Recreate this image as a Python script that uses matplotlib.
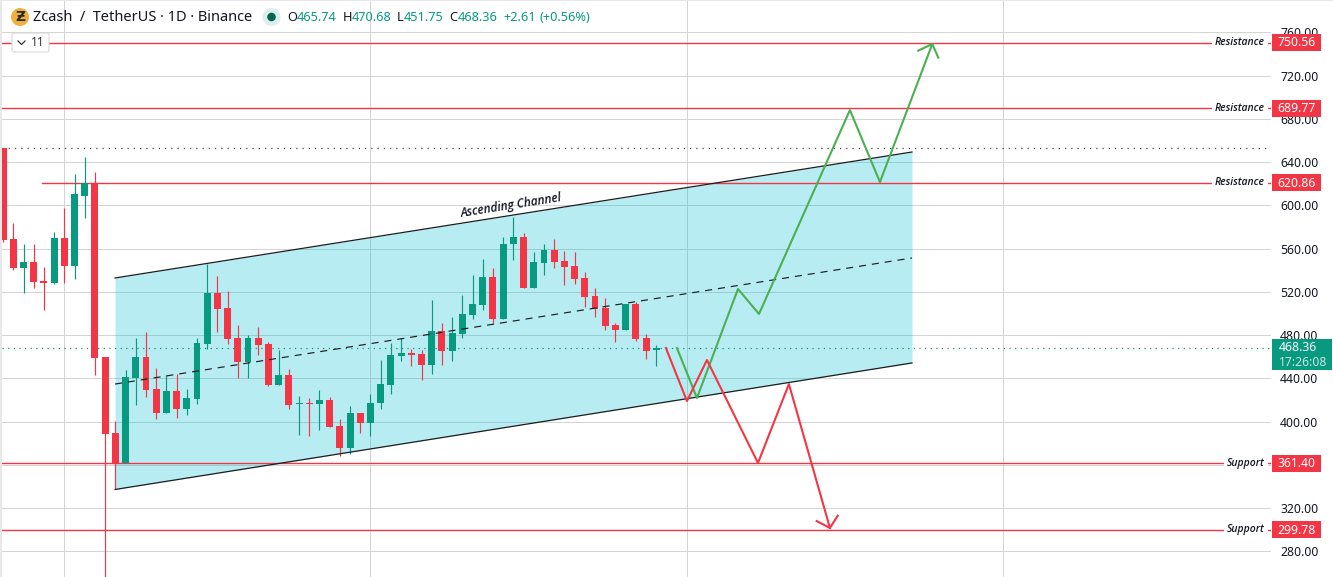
import matplotlib
matplotlib.use('Agg')
import matplotlib.pyplot as plt
from matplotlib.patches import Circle, Rectangle, FancyBboxPatch
from matplotlib.transforms import IdentityTransform, blended_transform_factory

plt.rcParams['font.family'] = ['Noto Sans', 'DejaVu Sans']

# daily candles
opens = [653, 568.8, 542, 547.6, 530, 528.1, 569.8, 544.2, 608.6, 620.9,
         459.7, 389.4, 361.4, 440.3, 459.7, 430.1, 407.9, 428.3, 411.6, 420.9,
         471.8, 518.9, 505, 477.3, 455.1, 477.3, 471.8, 433.8, 443, 416.4,
         417.2, 416.2, 419.9, 395.9, 375.6, 407.9, 398.7, 417.2, 433.8, 460.7,
         463.4, 462.5, 452.3, 483.8, 465.3, 481, 498.6, 507.8, 533.7, 494.9,
         564.2, 570.7, 523.5, 546.6, 558.7, 548.5, 543.9, 532.8, 516.1, 505,
         489.3, 484.7, 508.7, 477.3, 465.74]
highs = [653, 583.6, 564.2, 564.2, 543.2, 575.3, 597.5, 628.9, 644.7, 630.8,
         459.7, 400.5, 447.7, 477.3, 482.8, 449.5, 443, 444, 430.1, 477.3,
         545.7, 534.6, 520.8, 489.3, 480, 487.5, 473.6, 466.2, 448.6, 423.6,
         421.8, 429.2, 422.7, 402.4, 414.4, 407.9, 425.5, 456.9, 472.7, 477.3,
         467.1, 466.2, 512.4, 491.2, 496.7, 517, 535.5, 550.3, 542, 570.7,
         589.2, 574.4, 556.8, 564.2, 568.8, 557.7, 556.8, 538.3, 523.5, 514.3,
         491.2, 508.7, 510.6, 481, 470.68]
lows = [566, 540.2, 519.2, 523.8, 503.2, 527.2, 527.8, 531.8, 588, 443,
        256, 337.4, 361.4, 415.3, 422.7, 402.4, 407.9, 403.3, 406.1, 416.3,
        467.1, 482.8, 471.8, 440.3, 440.3, 461.6, 432.9, 433.8, 411.6, 387.6,
        386.7, 392.2, 394.9, 368.2, 370, 389.4, 386.7, 411.6, 425.5, 456,
        451.4, 438.4, 444, 452.3, 456, 477.3, 494.9, 503.2, 491.2, 494.9,
        549.4, 523.5, 523.5, 535.5, 542, 526.3, 527.2, 506, 496.7, 484.7,
        473.6, 484.7, 474.5, 457.9, 451.75]
closes = [568, 542.3, 547.6, 529.4, 528.1, 569.8, 544.2, 610.5, 620.9, 459,
          388.5, 361.4, 441.2, 459.7, 429.2, 407.9, 428.3, 411.6, 421.8, 472.7,
          518.9, 504.1, 476.4, 455.1, 477.3, 470.8, 433.8, 443, 415.3, 417.2,
          416.4, 419.9, 394.9, 375.6, 407.9, 398.7, 417.2, 434.7, 461.6, 463.4,
          461.6, 452.3, 483.8, 465.3, 481.9, 499.5, 508.7, 533.7, 494.9, 564.2,
          570.7, 523.5, 547.6, 558.7, 547.6, 542.9, 531.9, 515.2, 504.1, 488.4,
          484.7, 508.7, 476.4, 465.3, 468.36]

price_ticks = [760, 720, 680, 640, 600, 560, 520, 480, 440, 400, 360, 320, 280]
# 360.00 sits fully behind the 361.40 box in the chart
price_labels = ['760.00', '720.00', '680.00', '640.00', '600.00', '560.00', '520.00',
                '480.00', '440.00', '400.00', '', '320.00', '280.00']
vgrid_bars = [6, 36, 67, 98]

res_levels = [750.56, 689.77, 620.86]
sup_levels = [361.40, 299.78]
last_price = 468.36
prev_high_dots = 653

# drawn objects, as bar index / price
chan_x = [10.97, 89.06]
chan_top = [532.8, 649.3]
chan_mid = [434.7, 551.3]
chan_bot = [337.2, 454.2]

up_x = [66.03, 67.99, 72.01, 74.07, 82.98, 85.92, 91.05]
up_y = [468.0, 421.8, 522.6, 499.5, 688.1, 621.5, 749.2]
up_head_x = [89.67, 91.05, 91.64]
up_head_y = [743.0, 749.2, 736.5]

down_x = [64.95, 67.01, 68.97, 73.97, 77.0, 81.02]
down_y = [468.0, 419.0, 456.9, 361.7, 434.7, 301.6]
down_head_x = [79.72, 81.02, 81.78]
down_head_y = [308.0, 301.6, 312.9]

RED = '#F23645'
TEAL = '#089981'
GREEN = '#4CAF50'
INK = '#131722'
GRID = '#D4D4D4'

W, H = 1333, 577
fig = plt.figure(figsize=(W / 100, H / 100), dpi=100, facecolor='white')
ax = fig.add_axes([2 / W, 0, 1269 / W, 1])
ax.set_xlim(-0.108, 124.24)
ax.set_ylim(256.26, 789.87)
for s in ax.spines.values():
    s.set_visible(False)

ax.yaxis.tick_right()
ax.set_yticks(price_ticks)
ax.set_yticklabels(price_labels, fontsize=8.8, color=INK)
ax.tick_params(axis='y', length=0, pad=6.5)
ax.set_xticks(vgrid_bars)
ax.tick_params(axis='x', length=0, labelbottom=False)
ax.grid(True, color=GRID, lw=0.72, zorder=0)
ax.set_axisbelow(True)

# channel
ax.fill_between(chan_x, chan_bot, chan_top, color='#00BCD4', alpha=0.28, lw=0, zorder=1)

# levels
edge = blended_transform_factory(ax.transAxes, ax.transData)
for p in res_levels + sup_levels:
    start = 3.81 if p == 620.86 else -0.108
    ax.plot([start, 124.24], [p, p], color=RED, lw=1.0, zorder=2)
ax.axhline(prev_high_dots, color='#444444', lw=0.9, ls=(0, (1, 4)), zorder=2)
ax.axhline(last_price, color=TEAL, lw=0.9, ls=(0, (1, 3.5)), zorder=2)

# candles
for i in range(len(opens)):
    c = TEAL if closes[i] >= opens[i] else RED
    ax.vlines(i, lows[i], highs[i], color=c, lw=0.85, zorder=3)
    ax.bar(i, abs(closes[i] - opens[i]), bottom=min(opens[i], closes[i]),
           width=0.68, color=c, lw=0, zorder=3)

# channel borders go over the candles
ax.plot(chan_x, chan_top, color='#1d1d1d', lw=0.9, zorder=4)
ax.plot(chan_x, chan_bot, color='#1d1d1d', lw=0.9, zorder=4)
ax.plot(chan_x, chan_mid, color='#1d1d1d', lw=0.85, ls=(0, (6, 5)), zorder=4)

ax.plot(up_x, up_y, color=GREEN, lw=1.5, zorder=5)
ax.plot(up_head_x, up_head_y, color=GREEN, lw=1.5, zorder=5)
ax.plot(down_x, down_y, color=RED, lw=1.5, zorder=6)
ax.plot(down_head_x, down_head_y, color=RED, lw=1.5, zorder=6)

ax.text(49.8, 599.8, 'Ascending Channel', rotation=9, rotation_mode='anchor',
        ha='center', va='center', fontsize=8.6, color=INK, style='italic', weight='semibold',
        family='Open Sans', zorder=7)

# level names and price boxes
right_x = (1265 - 2) / 1269
box_x = (1272 - 2) / 1269
box_w = 49 / 1269
for p, name in zip(res_levels + sup_levels, ['Resistance'] * 3 + ['Support'] * 2):
    ax.text(right_x, p, name, transform=edge, ha='right', va='center', fontsize=7.5,
            style='italic', weight='semibold', color=INK, family='Open Sans', zorder=7,
            bbox=dict(facecolor='white', edgecolor='none', pad=2.5))
    ax.add_patch(Rectangle((box_x, p - 7.9), box_w, 15.8, transform=edge, color=RED,
                           lw=0, clip_on=False, zorder=8))
    ax.text(box_x + box_w / 2, p - 0.3, '%.2f' % p, transform=edge, ha='center', va='center',
            fontsize=8.8, color='white', weight='medium', clip_on=False, zorder=9)

ax.add_patch(Rectangle((box_x, last_price - 21), 60 / 1269, 28.7, transform=edge, color=TEAL,
                       lw=0, clip_on=False, zorder=8))
ax.text(box_x + 7 / 1269, last_price - 0.3, '%.2f' % last_price, transform=edge, va='center',
        fontsize=8.8, color='white', clip_on=False, zorder=9)
ax.text(box_x + 7 / 1269, last_price - 13.8, '17:26:08', transform=edge, va='center',
        fontsize=8.8, color='#C4E8E0', clip_on=False, zorder=9)

# header, placed in pixels
px = IdentityTransform()


def head(x, s, color=INK, size=9.2):
    fig.text(x, H - 17.5, s, transform=px, va='center', ha='left', fontsize=size, color=color, zorder=12)


fig.add_artist(Rectangle((0, 0), 2, H, transform=px, color='#E8E8E8', lw=0))
fig.add_artist(Rectangle((0, H - 1), W, 1, transform=px, color='#E8E8E8', lw=0))
fig.add_artist(Circle((20, H - 17), 9, transform=px, color='#F0B13C', lw=0, zorder=11))
fig.text(20, H - 17, '\u01b5', transform=px, ha='center', va='center', fontsize=10,
         weight='bold', color='#2b2b2b', family='DejaVu Sans', zorder=12)
head(33, 'Zcash  /  TetherUS \u00b7 1D \u00b7 Binance', size=10.5)
fig.add_artist(Circle((271.5, H - 17), 9, transform=px, color='#DCEFEB', lw=0, zorder=11))
fig.add_artist(Circle((271.5, H - 17), 4.3, transform=px, color='#056656', lw=0, zorder=12))
head(287.5, 'O')
head(297, '465.74', TEAL)
head(342.5, 'H')
head(351.5, '470.68', TEAL)
head(396.5, 'L')
head(404, '451.75', TEAL)
head(449, 'C')
head(458, '468.36', TEAL)
head(503, '+2.61', TEAL)
head(540, '(+0.56%)', TEAL)

# collapsed indicators button
fig.add_artist(FancyBboxPatch((12, H - 52), 37, 19, boxstyle='round,pad=0,rounding_size=2',
                              transform=px, facecolor='white', edgecolor='#D9D9D9', lw=0.8, zorder=11))
fig.add_artist(plt.Line2D([18, 21.5, 25], [H - 41, H - 44.5, H - 41], transform=px,
                          color='#333333', lw=0.9, zorder=12))
fig.text(38, H - 43, '11', transform=px, ha='center', va='center', fontsize=8.8, color='#333333', zorder=12)

fig.savefig('out.png', dpi=100)
